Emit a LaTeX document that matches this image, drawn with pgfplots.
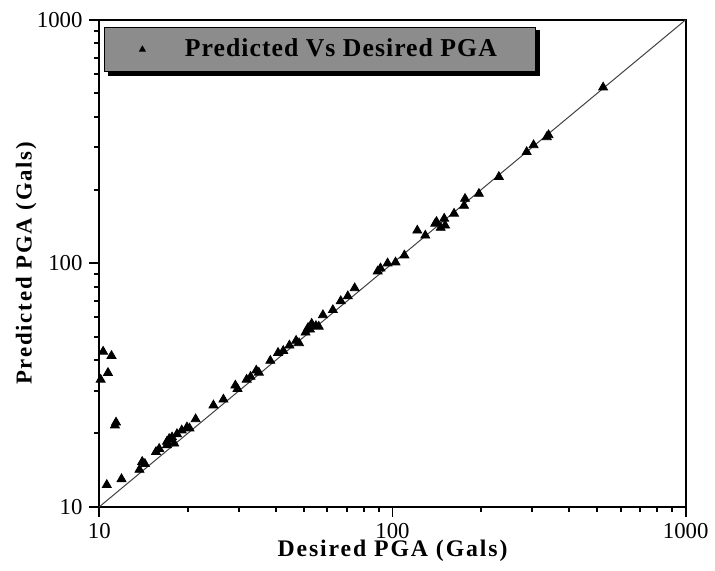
\documentclass[border=0pt]{standalone}
\usepackage{fontspec}
\setmainfont{Liberation Serif}
\usepackage{pgfplots}
\pgfplotsset{compat=1.18}
\usetikzlibrary{calc}
\definecolor{legendgray}{RGB}{140,140,140}

\begin{document}
\begin{tikzpicture}
\begin{axis}[
  scale only axis,
  width=295bp, height=245bp,
  xmode=log, ymode=log,
  xmin=10, xmax=1000, ymin=10, ymax=1000,
  log ticks with fixed point,
  /pgf/number format/assume math mode=true,
  /pgf/number format/set thousands separator={},
  xtick={10,100,1000}, ytick={10,100,1000},
  minor xtick={20,30,40,50,60,70,80,90,200,300,400,500,600,700,800,900},
  minor ytick={20,30,40,50,60,70,80,90,200,300,400,500,600,700,800,900},
  tick align=outside,
  tick pos=left,
  major tick length=5bp, minor tick length=2.5bp,
  tick style={draw=black, line width=1bp},
  axis line style={line width=0.9bp},
  tick label style={font=\fontsize{11.5}{13}\selectfont},
  xlabel={Desired PGA (Gals)},
  ylabel={Predicted PGA (Gals)},
  xlabel style={font=\bfseries\fontsize{12}{14}\selectfont\addfontfeature{LetterSpace=8},
    at={(axis description cs:0.5,-0.09)}, anchor=center},
  ylabel style={font=\bfseries\fontsize{11.5}{14}\selectfont\addfontfeature{LetterSpace=8},
    at={(axis description cs:-0.125,0.5)}, anchor=center},
  legend cell align=left,
  legend image post style={mark size=1.6bp},
  legend style={
    name=leg,
    at={(rel axis cs:0.0085,0.986)}, anchor=north west,
    fill=legendgray, draw=black, line width=0.5bp,
    inner xsep=17.5bp, inner ysep=4bp,
    font=\bfseries\fontsize{13}{16}\selectfont\addfontfeature{LetterSpace=4},
    /tikz/every odd column/.append style={column sep=18bp},
  },
]
\coordinate (sw) at (rel axis cs:0,0);
\coordinate (ne) at (rel axis cs:1,1);

\addplot[black!75, line width=0.5bp, forget plot] coordinates {(10,10) (1000,1000)};

\addplot[only marks, mark=triangle*, mark size=2.6bp, black] coordinates {
  (10.3,43.4) (11.0,41.7) (10.7,35.5) (10.1,33.3) (11.4,22.2) (11.3,21.6)
  (10.6,12.3) (11.9,13.0)
  (13.7,14.2) (14.0,15.3) (14.3,15.0) (15.6,16.8) (16.0,17.3) (17.0,17.9)
  (17.0,18.5) (17.3,19.0) (17.7,19.3) (18.4,19.9) (18.0,18.2) (19.1,20.6)
  (19.9,21.2) (20.3,21.0) (21.3,22.9) (24.5,26.1) (26.5,27.6) (29.1,31.5)
  (29.6,30.5) (31.8,33.3) (32.8,34.2) (34.3,36.3) (35.0,35.6) (38.3,39.8)
  (40.7,42.9) (42.4,43.7) (44.5,46.0) (46.9,48.1) (48.0,47.0) (50.5,52.0)
  (51.5,54.3) (52.3,53.5) (53.0,56.5) (54.8,55.3) (56.0,55.0) (57.9,61.3)
  (62.6,64.3) (66.6,70.0) (70.4,73.3) (74.3,79.1) (89.0,92.7) (91.0,95.4)
  (96.2,100.0) (102.4,100.9) (109.8,107.8) (121.5,136.4) (129.4,130.1)
  (139.9,145.6) (141.3,148.0) (150.1,152.6) (151.2,143.0) (146.0,140.0)
  (162.2,160.0) (175.4,172.5) (176.8,184.2) (197.2,193.1) (230.6,226.5)
  (286.9,286.6) (302.9,306.0) (336.0,330.0) (340.7,336.2) (523.0,528.0)
};
\addlegendentry{Predicted Vs Desired PGA}
\end{axis}
% legend shadow along the right and bottom edges
\fill[black] ($(leg.north east)+(0,-1.8bp)$) rectangle ($(leg.south east)+(1.8bp,-1.8bp)$);
\fill[black] ($(leg.south west)+(1.8bp,0)$) rectangle ($(leg.south east)+(1.8bp,-1.8bp)$);
\path ($(sw)+(-50bp,-32bp)$) rectangle ($(ne)+(12.5bp,10bp)$);
\end{tikzpicture}
\end{document}
